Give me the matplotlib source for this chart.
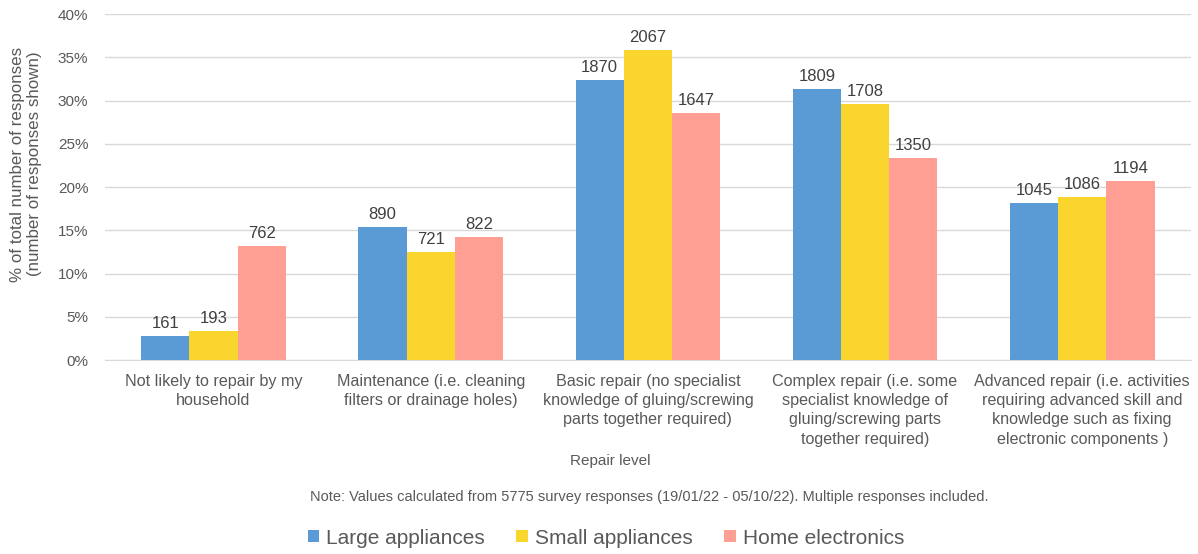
import matplotlib
matplotlib.use("Agg")
import matplotlib.pyplot as plt
import numpy as np

plt.rcParams['font.family'] = ['Liberation Sans', 'DejaVu Sans']

categories = [
    "Not likely to repair by my\nhousehold",
    "Maintenance (i.e. cleaning\nfilters or drainage holes)",
    "Basic repair (no specialist\nknowledge of gluing/screwing\nparts together required)",
    "Complex repair (i.e. some\nspecialist knowledge of\ngluing/screwing parts\ntogether required)",
    "Advanced repair (i.e. activities\nrequiring advanced skill and\nknowledge such as fixing\nelectronic components )",
]
series_names = ["Large appliances", "Small appliances", "Home electronics"]
large_pct = [2.79, 15.41, 32.38, 31.32, 18.10]
small_pct = [3.34, 12.48, 35.79, 29.58, 18.81]
home_pct = [13.19, 14.23, 28.52, 23.38, 20.68]
large_n = [161, 890, 1870, 1809, 1045]
small_n = [193, 721, 2067, 1708, 1086]
home_n = [762, 822, 1647, 1350, 1194]
colors = ["#5B9BD5", "#F9D52E", "#FF9F94"]

text_color = "#595959"
fig = plt.figure(figsize=(11.98, 5.54), dpi=100)
ax = fig.add_axes([0.0876, 0.350, 0.9064, 0.6247])

x = np.arange(len(categories))
w = 0.222
for i, (vals, counts) in enumerate([(large_pct, large_n), (small_pct, small_n), (home_pct, home_n)]):
    bars = ax.bar(x + (i - 1) * w, vals, w, color=colors[i], label=series_names[i], zorder=3)
    for b, c in zip(bars, counts):
        ax.text(b.get_x() + b.get_width() / 2, b.get_height() + 0.6, str(c),
                ha='center', va='bottom', fontsize=12, color="#404040")

ax.set_xlim(-0.5, len(categories) - 0.5)
ax.set_ylim(0, 40)
ax.set_yticks(np.arange(0, 41, 5))
ax.set_yticklabels([f"{v}%" for v in range(0, 41, 5)])
ax.grid(axis='y', color='#D9D9D9', linewidth=1, zorder=0)
for s in ['top', 'right', 'left']:
    ax.spines[s].set_visible(False)
ax.spines['bottom'].set_color('#D9D9D9')
ax.tick_params(axis='y', length=0, labelsize=11, labelcolor=text_color, pad=12)
ax.tick_params(axis='x', length=0, labelsize=11.6, labelcolor=text_color, pad=10)
ax.set_xticks(x)
ax.set_xticklabels(categories, linespacing=1.35)

fig.text(26 / 1198, 1 - 164 / 554, "% of total number of responses\n(number of responses shown)",
         rotation=90, ha='center', va='center', fontsize=12.2, color=text_color,
         linespacing=1.2, multialignment='center')
fig.text(610 / 1198, 1 - 461 / 554, "Repair level", ha='center', va='center',
         fontsize=11, color=text_color)
fig.text(649 / 1198, 1 - 497 / 554,
         "Note: Values calculated from 5775 survey responses (19/01/22 - 05/10/22). Multiple responses included.",
         ha='center', va='center', fontsize=10.5, color=text_color)

handles, labels = ax.get_legend_handles_labels()
fig.legend(handles, labels, loc='center', bbox_to_anchor=(606 / 1198, 1 - 538 / 554),
           ncol=3, frameon=False, fontsize=15, labelcolor=text_color,
           handlelength=0.55, handleheight=0.55, handletextpad=0.35, columnspacing=1.5)

fig.savefig("out.png", dpi=100)
